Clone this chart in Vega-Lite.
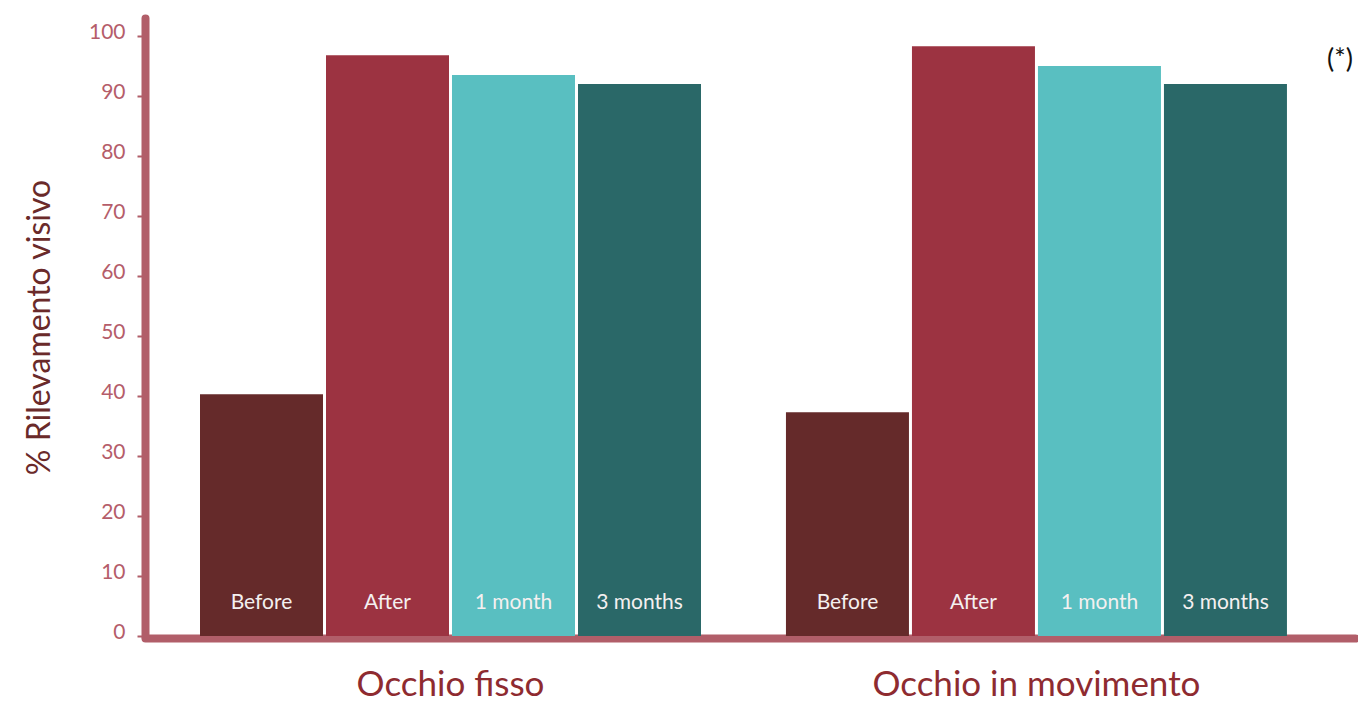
{
  "$schema": "https://vega.github.io/schema/vega-lite/v6.json",
  "width": 1210,
  "height": 618,
  "autosize": {"type": "none"},
  "padding": {"left": 145, "top": 18, "right": 3, "bottom": 68},
  "background": "white",
  "config": {"view": {"stroke": null}, "font": "Lato"},
  "title": {"text": "(*)", "anchor": "end", "frame": "group", "fontSize": 27, "fontWeight": "normal", "color": "#111111", "baseline": "middle", "dy": 73, "dx": -2},
  "data": {"values": [
    {"group": "Occhio fisso", "period": "Before", "value": 40.3},
    {"group": "Occhio fisso", "period": "After", "value": 96.8},
    {"group": "Occhio fisso", "period": "1 month", "value": 93.5},
    {"group": "Occhio fisso", "period": "3 months", "value": 92.0},
    {"group": "Occhio in movimento", "period": "Before", "value": 37.3},
    {"group": "Occhio in movimento", "period": "After", "value": 98.3},
    {"group": "Occhio in movimento", "period": "1 month", "value": 95.0},
    {"group": "Occhio in movimento", "period": "3 months", "value": 92.0}
  ]},
  "encoding": {
    "x": {
      "field": "group", "type": "nominal", "sort": null,
      "scale": {"paddingInner": 0.145, "paddingOuter": 0.105, "align": 0.447},
      "axis": {
        "title": null, "ticks": false, "tickSize": 0, "labelAngle": 0, "labelLimit": 600,
        "labelFontSize": 35, "labelColor": "#8e2b30", "labelPadding": 29,
        "domainColor": "#b15e69", "domainWidth": 8, "domainCap": "round", "grid": false, "offset": 2
      }
    },
    "xOffset": {
      "field": "period", "type": "nominal",
      "sort": ["Before", "After", "1 month", "3 months"],
      "scale": {"paddingInner": 0.0238, "paddingOuter": 0}
    }
  },
  "layer": [
    {
      "mark": {"type": "bar"},
      "encoding": {
        "y": {
          "field": "value", "type": "quantitative",
          "scale": {"domain": [0, 103], "nice": false, "zero": true},
          "axis": {
            "title": "% Rilevamento visivo", "titleFontSize": 32, "titleFontWeight": "normal",
            "titleColor": "#6a2a2a", "titlePadding": 32,
            "values": [0, 10, 20, 30, 40, 50, 60, 70, 80, 90, 100],
            "labelFontSize": 21, "labelColor": "#b55d6a", "labelPadding": 12, "labelOffset": -4,
            "tickSize": 8, "tickWidth": 2, "tickColor": "#b15e69",
            "domainColor": "#b15e69", "domainWidth": 8, "domainCap": "round", "grid": false
          }
        },
        "color": {
          "field": "period", "type": "nominal", "legend": null,
          "scale": {"domain": ["Before", "After", "1 month", "3 months"], "range": ["#652a2a", "#9c3341", "#59bfc1", "#2a6868"]}
        }
      }
    },
    {
      "mark": {"type": "text", "fontSize": 21, "color": "#f4f0f0", "baseline": "middle"},
      "encoding": {
        "y": {"datum": 5.5, "type": "quantitative"},
        "text": {"field": "period"}
      }
    }
  ]
}
